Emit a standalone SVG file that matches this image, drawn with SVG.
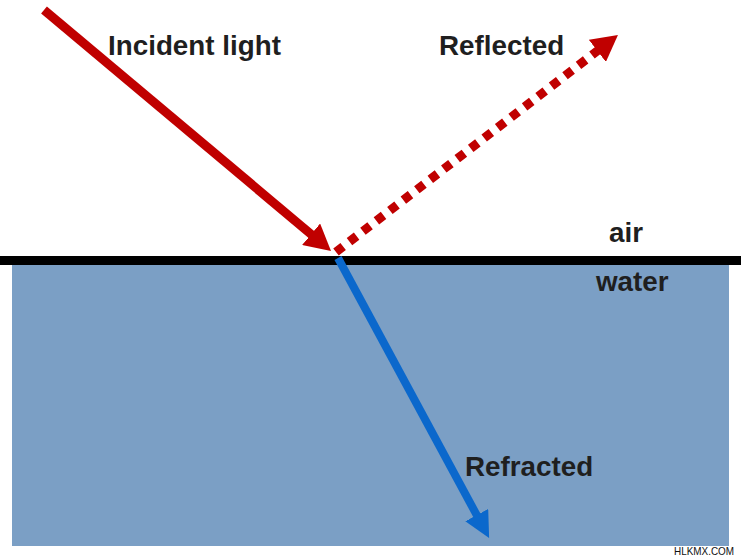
<svg xmlns="http://www.w3.org/2000/svg" width="741" height="557" viewBox="0 0 741 557">
<style>
.lbl{font-family:"Liberation Sans",Arial,sans-serif;font-weight:bold;font-size:27.8px;fill:#1f1f1f}
.wm{font-family:"Liberation Sans",Arial,sans-serif;font-size:10.5px;fill:#111}
.red{stroke:#c00000;fill:none}
.blue{stroke:#0b68cc;fill:none}
</style>
<defs>
<marker id="hr" markerUnits="userSpaceOnUse" viewBox="0 0 26 28" markerWidth="26" markerHeight="28" refX="6" refY="14" orient="auto"><path d="M0,0 L26,14 L0,28 z" fill="#c00000"/></marker>
<marker id="hb" markerUnits="userSpaceOnUse" viewBox="0 0 26 26" markerWidth="26" markerHeight="26" refX="6" refY="13" orient="auto"><path d="M0,0 L26,13 L0,26 z" fill="#0b68cc"/></marker>
</defs>
<rect width="741" height="557" fill="#fff"/>
<g id="water"><rect x="12" y="262" width="717" height="284" fill="#7b9fc5"/></g>
<g id="surface"><rect x="0" y="256" width="741" height="9" fill="#000"/></g>
<g id="connectors">
<line id="incident" class="red" x1="44" y1="10" x2="315.7" y2="238.1" stroke-width="9" marker-end="url(#hr)"/>
<line id="reflected" class="red" x1="336" y1="252" x2="602.1" y2="47.2" stroke-width="9" stroke-dasharray="9 8" marker-end="url(#hr)"/>
<line id="refracted" class="blue" x1="338" y1="258" x2="479.6" y2="520.4" stroke-width="8" marker-end="url(#hb)"/>
</g>
<g id="labels">
<text class="lbl" x="108" y="55">Incident light</text>
<text class="lbl" x="439" y="55">Reflected</text>
<text class="lbl" x="609" y="242">air</text>
<text class="lbl" x="596" y="291">water</text>
<text class="lbl" x="465" y="476">Refracted</text>
<text class="wm" x="674" y="554.5" textLength="60" lengthAdjust="spacingAndGlyphs">HLKMX.COM</text>
</g>
</svg>
